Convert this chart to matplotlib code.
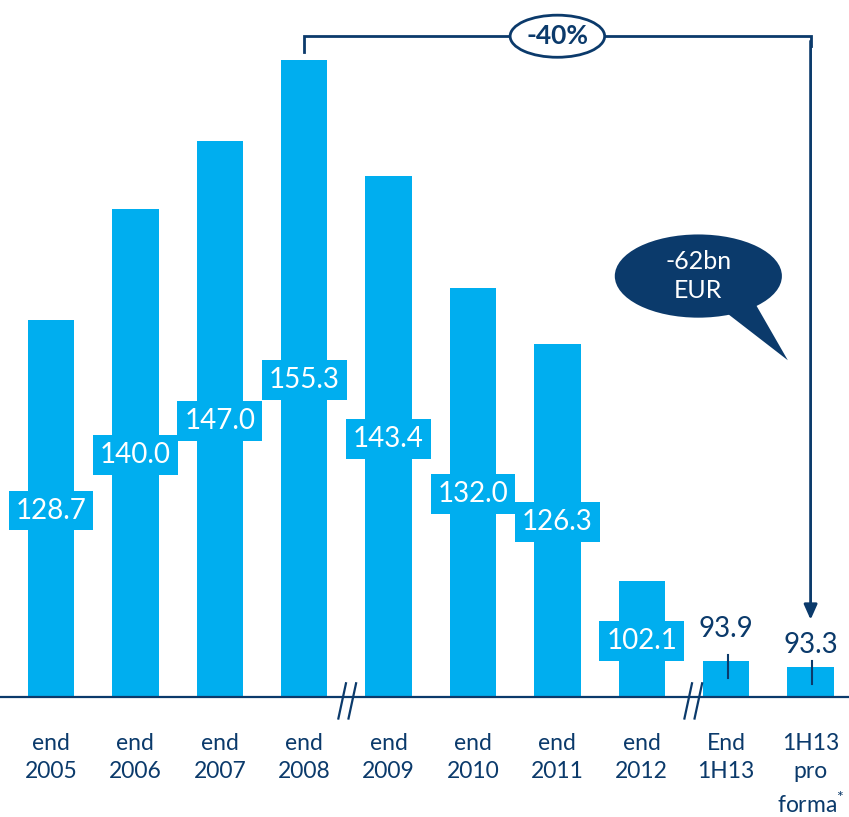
import matplotlib
matplotlib.use("Agg")
import matplotlib.pyplot as plt
from matplotlib.patches import Ellipse, Polygon

plt.rcParams['font.family'] = ['Lato', 'DejaVu Sans']
plt.rcParams['mathtext.fontset'] = 'custom'
plt.rcParams['mathtext.rm'] = 'Lato'

categories = ["end\n2005", "end\n2006", "end\n2007", "end\n2008", "end\n2009",
              "end\n2010", "end\n2011", "end\n2012", "End\n1H13", "1H13\npro\nforma$^{*}$"]
values = [128.7, 140.0, 147.0, 155.3, 143.4, 132.0, 126.3, 102.1, 93.9, 93.3]
value_labels = ["128.7", "140.0", "147.0", "155.3", "143.4", "132.0", "126.3", "102.1", "93.9", "93.3"]
change_label = "-40%"
bubble_label = "-62bn\nEUR"

BAR = "#00AEEF"
NAVY = "#0B3A6B"
base = 90.2
top = 161.4

fig = plt.figure(figsize=(8.49, 8.17), dpi=100)
ax = fig.add_axes([0, 120/817, 1, 697/817])
x = list(range(len(values)))
ax.bar(x, [v - base for v in values], bottom=base, width=0.55, color=BAR, zorder=2)
ax.set_xlim(-0.604, 9.455)
ax.set_ylim(base, top)

for s in ["top", "left", "right"]:
    ax.spines[s].set_visible(False)
ax.spines["bottom"].set_color(NAVY)
ax.spines["bottom"].set_linewidth(1.6)
ax.set_yticks([])
ax.set_xticks(x)
ax.set_xticklabels(categories, fontsize=16.5, color=NAVY, linespacing=1.42, va="top")
ax.tick_params(axis="x", length=0, pad=26)

# value labels
for i, (v, lab) in enumerate(zip(values, value_labels)):
    if v > 100:
        ax.text(i, (v + base) / 2 - 0.2, lab, ha="center", va="center", fontsize=20,
                color="white", zorder=4,
                bbox=dict(boxstyle="square,pad=0.25", fc=BAR, ec="none"))
    else:
        ly = v + 3.2 if i == 8 else v + 2.2
        ax.text(i, ly, lab, ha="center", va="center", fontsize=20, color=NAVY, zorder=4)
        ax.plot([i + 0.02, i + 0.02], [v + 0.6, v - 1.8], color=NAVY, lw=1.5, zorder=3)

# axis break marks
for bx in [3.45, 7.55]:
    for off in [0.0, 0.12]:
        ax.plot([bx + off + 0.045, bx + off - 0.045], [91.6, 88.0], color=NAVY, lw=1.6,
                clip_on=False, zorder=5)

# bracket with -40%
by = 157.7
ax.plot([3, 3, 9, 9], [156.1, by, by, by - 1], color=NAVY, lw=2, clip_on=False, zorder=3,
        solid_joinstyle="miter")
ax.annotate("", xy=(9, 98.1), xytext=(9, by - 0.5),
            arrowprops=dict(arrowstyle="-|>,head_length=0.9,head_width=0.4",
                            color=NAVY, lw=2, shrinkA=0, shrinkB=0),
            annotation_clip=False, zorder=3)
ax.add_patch(Ellipse((6.0, by), 1.12, 4.3, fc="white", ec=NAVY, lw=2, zorder=4, clip_on=False))
ax.text(6.0, by, change_label, ha="center", va="center", fontsize=19, fontweight="bold",
        color=NAVY, zorder=5)

# speech bubble
ax.add_patch(Polygon([(7.95, 129.8), (8.33, 130.6), (8.73, 124.6)], closed=True,
                     fc=NAVY, ec="none", zorder=4))
ax.add_patch(Ellipse((7.67, 133.2), 1.98, 8.5, fc=NAVY, ec="none", zorder=4))
ax.text(7.67, 133.2, bubble_label, ha="center", va="center", fontsize=18, color="white",
        linespacing=1.35, zorder=5)

fig.savefig("out.png", dpi=100)
